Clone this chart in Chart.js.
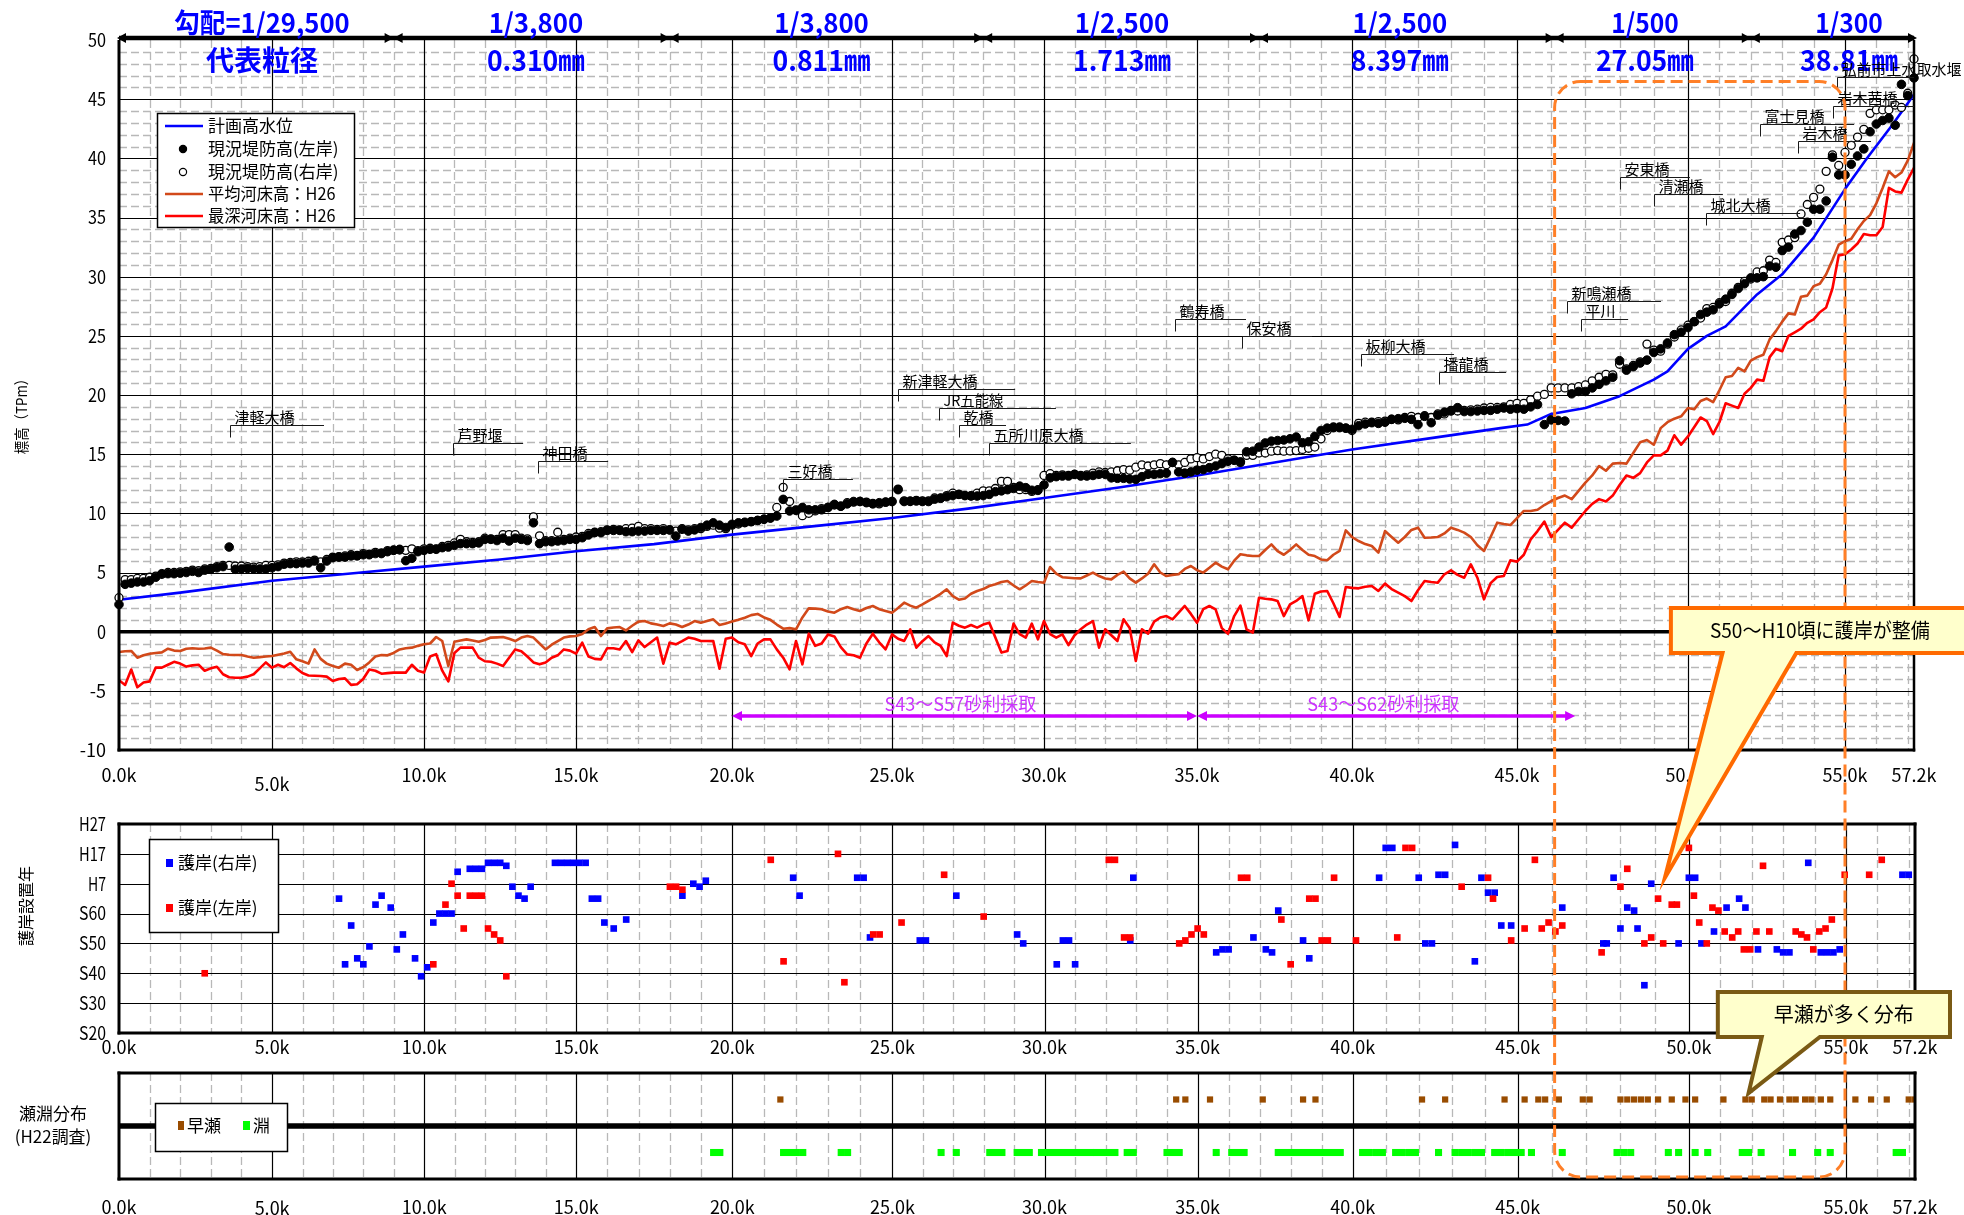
<!DOCTYPE html>
<html lang="ja">
<head>
<meta charset="utf-8">
<title>岩木川 縦断図・護岸設置年・瀬淵分布</title>
<script src="https://cdn.jsdelivr.net/npm/chart.js@4.4.1/dist/chart.umd.min.js"></script>
<style>
html,body{margin:0;padding:0;background:#fff;}
#wrap{position:relative;width:1964px;height:1215px;overflow:hidden;background:#fff;}
#wrap canvas{position:absolute;left:0;}
#cTop{top:0;}
#cMid{top:800px;}
#cBot{top:1060px;}
#cOver{top:0;pointer-events:none;}
</style>
</head>
<body>
<div id="wrap">
<canvas id="cTop" width="1964" height="800"></canvas>
<canvas id="cMid" width="1964" height="260"></canvas>
<canvas id="cBot" width="1964" height="155"></canvas>
<canvas id="cOver" width="1964" height="1215"></canvas>
</div>
<script>
// ===================== DATA =====================
// survey stations (km from river mouth)
const stationsKm = [
0,0.2,0.4,0.6,0.8,1,1.2,1.4,1.6,1.8,
2,2.2,2.4,2.6,2.8,3,3.2,3.4,3.6,3.8,
4,4.2,4.4,4.6,4.8,5,5.2,5.4,5.6,5.8,
6,6.2,6.4,6.6,6.8,7,7.2,7.4,7.6,7.8,
8,8.2,8.4,8.6,8.8,9,9.2,9.4,9.6,9.8,
10,10.2,10.4,10.6,10.8,11,11.2,11.4,11.6,11.8,
12,12.2,12.4,12.6,12.8,13,13.2,13.4,13.6,13.8,
14,14.2,14.4,14.6,14.8,15,15.2,15.4,15.6,15.8,
16,16.2,16.4,16.6,16.8,17,17.2,17.4,17.6,17.8,
18,18.2,18.4,18.6,18.8,19,19.2,19.4,19.6,19.8,
20,20.2,20.4,20.6,20.8,21,21.2,21.4,21.6,21.8,
22,22.2,22.4,22.6,22.8,23,23.2,23.4,23.6,23.8,
24,24.2,24.4,24.6,24.8,25,25.2,25.4,25.6,25.8,
26,26.2,26.4,26.6,26.8,27,27.2,27.4,27.6,27.8,
28,28.2,28.4,28.6,28.8,29,29.2,29.4,29.6,29.8,
30,30.2,30.4,30.6,30.8,31,31.2,31.4,31.6,31.8,
32,32.2,32.4,32.6,32.8,33,33.2,33.4,33.6,33.8,
34,34.2,34.4,34.6,34.8,35,35.2,35.4,35.6,35.8,
36,36.2,36.4,36.6,36.8,37,37.2,37.4,37.6,37.8,
38,38.2,38.4,38.6,38.8,39,39.2,39.4,39.6,39.8,
40,40.2,40.4,40.6,40.8,41,41.2,41.4,41.6,41.8,
42,42.2,42.4,42.6,42.8,43,43.2,43.4,43.6,43.8,
44,44.2,44.4,44.6,44.8,45,45.2,45.4,45.6,45.8,
46,46.2,46.4,46.6,46.8,47,47.2,47.4,47.6,47.8,
48,48.2,48.4,48.6,48.8,49,49.2,49.4,49.6,49.8,
50,50.2,50.4,50.6,50.8,51,51.2,51.4,51.6,51.8,
52,52.2,52.4,52.6,52.8,53,53.2,53.4,53.6,53.8,
54,54.2,54.4,54.6,54.8,55,55.2,55.4,55.6,55.8,
56,56.2,56.4,56.6,56.8,57,57.2];

// 現況堤防高(左岸) TP m
const leveeLeft = [
2.3,4.0,4.1,4.2,4.2,4.3,4.6,4.9,4.9,4.9,
4.95,5.0,5.1,5.0,5.2,5.27,5.4,5.5,7.15,5.27,
5.3,5.35,5.3,5.3,5.3,5.4,5.5,5.7,5.75,5.75,
5.8,5.8,5.97,5.4,5.97,6.25,6.3,6.3,6.4,6.4,
6.5,6.5,6.6,6.6,6.76,6.87,6.96,6.0,6.2,6.76,
6.87,6.96,6.96,7.1,7.15,7.3,7.44,7.44,7.44,7.5,
7.8,7.8,7.7,7.9,7.66,7.9,7.8,7.7,9.2,7.44,
7.6,7.6,7.66,7.7,7.8,7.8,7.94,8.17,8.37,8.37,
8.56,8.56,8.56,8.45,8.45,8.5,8.5,8.56,8.56,8.56,
8.6,8.08,8.65,8.5,8.6,8.8,9.0,9.2,9.0,8.8,
9.07,9.2,9.25,9.3,9.4,9.5,9.6,9.77,11.18,10.2,
10.25,10.5,10.3,10.3,10.3,10.5,10.76,10.6,10.8,11.0,
11.0,10.9,10.8,10.9,10.95,11.0,12.0,11.0,11.04,11.04,
11.0,11.0,11.2,11.27,11.4,11.5,11.6,11.5,11.46,11.46,
11.5,11.6,11.83,11.9,12.0,12.1,12.3,12.17,11.95,11.94,
12.4,13.0,13.1,13.15,13.15,13.3,13.15,13.15,13.2,13.3,
13.3,13.0,12.96,12.96,12.9,12.87,13.1,13.3,13.3,13.35,
13.4,14.3,13.5,13.4,13.5,13.65,13.7,13.86,14.0,14.2,
14.4,14.48,14.35,15.2,15.25,15.6,15.95,16.1,16.15,16.2,
16.3,16.45,15.97,16.05,16.5,17.0,17.2,17.24,17.24,17.2,
17.1,17.4,17.55,17.66,17.6,17.7,17.94,18.0,18.03,17.94,
17.5,18.2,17.66,18.3,18.55,18.65,18.93,18.6,18.6,18.65,
18.7,18.7,18.8,18.9,18.8,18.85,18.8,19.0,19.2,17.5,
17.9,17.85,17.8,20.1,20.3,20.3,20.6,20.9,21.2,21.5,
22.9,22.1,22.4,22.7,22.95,23.6,23.9,24.4,25.1,25.3,
25.7,26.2,26.8,27.0,27.2,27.7,28.1,28.5,29.0,29.4,
29.9,29.9,30.0,30.9,30.8,32.2,32.5,33.6,33.9,34.6,
35.7,35.7,36.4,40.1,38.6,38.6,39.5,40.2,40.8,42.25,
42.9,43.2,43.4,42.8,46.25,45.3,46.8];

// 現況堤防高(右岸) TP m
const leveeRight = [
2.87,4.4,4.4,4.5,4.5,4.6,4.7,4.85,5.0,5.0,
5.05,5.1,5.2,5.15,5.3,5.35,5.5,5.6,5.6,5.55,
5.55,5.5,5.45,5.5,5.6,5.6,5.65,5.8,5.85,5.9,
5.9,5.95,6.05,5.9,6.1,6.3,6.35,6.4,6.5,6.45,
6.6,6.55,6.7,6.65,6.85,6.9,6.9,6.87,7.0,6.85,
7.0,7.05,7.0,7.2,7.3,7.5,7.8,7.6,7.55,7.6,
7.9,7.85,7.8,8.2,8.2,8.2,7.9,7.85,9.7,8.1,
7.7,7.7,8.4,7.8,7.9,8.0,8.05,8.3,8.4,8.45,
8.6,8.65,8.6,8.7,8.75,8.9,8.7,8.7,8.65,8.7,
8.6,8.5,8.7,8.6,8.7,8.7,8.9,9.0,8.75,8.7,
9.0,9.1,9.2,9.3,9.4,9.5,9.6,10.5,12.2,11.0,
10.3,9.8,10.0,10.2,10.4,10.5,10.7,10.6,10.9,10.95,
11.0,10.95,10.85,10.8,10.95,11.0,12.05,11.05,11.0,11.1,
11.05,11.05,11.3,11.3,11.5,11.7,11.6,11.5,11.5,11.7,
11.9,11.9,12.1,12.7,12.7,12.2,12.0,12.0,11.85,12.0,
13.2,13.35,13.2,13.25,13.2,13.3,13.2,13.25,13.4,13.5,
13.45,13.5,13.6,13.7,13.65,13.9,14.1,14.0,14.1,14.2,
14.1,14.3,14.1,14.3,14.6,14.7,14.6,14.8,15.0,14.9,
14.6,14.5,14.3,14.9,14.9,15.1,15.1,15.25,15.3,15.25,
15.27,15.3,15.4,15.5,15.6,16.3,17.0,17.3,17.3,17.2,
17.0,17.6,17.7,17.7,17.75,17.8,17.95,17.9,18.1,18.2,
18.1,18.25,18.1,18.4,18.4,18.7,18.65,18.7,18.75,18.8,
18.9,18.95,18.95,19.0,19.2,19.3,19.3,19.6,19.9,20.05,
20.6,20.6,20.6,20.6,20.7,20.85,21.2,21.5,21.75,21.7,
22.6,22.2,22.5,22.8,24.3,23.8,23.7,24.3,24.9,25.5,
25.9,26.2,26.5,27.3,27.4,27.8,27.9,28.6,29.1,29.6,
29.8,30.4,30.5,31.4,31.2,32.9,33.1,33.3,35.3,36.1,
36.7,37.4,38.9,40.3,39.4,40.5,41.1,41.8,42.45,43.8,
44.1,44.1,44.1,44.5,44.3,45.5,48.4];

// 平均河床高：H26 TP m
const bedAvg = [
-1.72,-1.65,-1.63,-2.2,-2.0,-1.86,-1.8,-1.75,-1.44,-1.6,
-1.63,-1.45,-1.4,-1.44,-1.42,-1.35,-1.6,-1.9,-1.95,-1.97,
-1.97,-2.1,-2.2,-2.15,-2.1,-2.06,-1.95,-1.85,-1.7,-2.34,
-2.5,-2.7,-1.5,-2.3,-2.7,-2.9,-3.04,-2.7,-2.8,-3.24,
-3.0,-2.6,-2.1,-1.97,-2.0,-1.8,-1.5,-1.4,-1.35,-1.2,
-1.07,-1.0,-0.45,-0.79,-2.9,-0.85,-0.75,-0.65,-0.75,-0.85,
-0.7,-0.5,-0.48,-0.45,-0.6,-0.79,-0.5,-0.37,-0.5,-1.0,
-1.5,-1.1,-0.79,-0.5,-0.4,-0.37,-0.2,0.2,0.39,-0.37,
0.28,0.35,0.39,0.1,0.5,0.85,0.9,0.7,0.6,0.48,
0.7,0.6,0.39,0.6,0.9,0.76,0.9,1.04,0.56,0.7,
0.85,1.0,1.18,1.4,1.5,1.2,1.0,0.6,0.25,0.3,
0.2,1.2,1.97,1.95,1.89,1.7,1.6,1.9,2.08,1.9,
1.75,2.0,2.17,1.9,1.75,1.6,2.0,2.45,2.2,2.03,
2.3,2.6,2.87,3.2,3.58,3.0,2.7,2.8,3.2,3.44,
3.6,3.86,4.0,4.2,4.28,3.9,3.58,3.9,4.28,4.2,
4.14,5.46,4.9,4.6,4.56,4.52,4.5,4.75,4.99,4.7,
4.5,4.42,4.8,5.07,4.5,4.14,4.5,4.9,5.69,5.0,
4.7,4.8,4.85,5.3,5.55,5.2,4.99,5.4,5.83,5.5,
5.27,6.0,6.54,6.45,6.4,6.39,6.9,7.38,6.8,6.5,
6.9,7.38,6.9,6.5,6.39,6.1,6.03,6.5,6.82,8.56,
8.0,7.66,7.4,7.24,6.68,8.5,8.0,7.52,8.0,8.6,
8.79,7.94,7.96,8.0,8.3,8.79,8.6,8.37,8.0,7.3,
6.82,8.0,9.21,9.1,9.01,9.6,10.2,10.2,10.3,10.7,
11.04,11.3,11.5,11.2,11.9,12.6,13.2,14.0,13.6,14.2,
14.25,14.2,15.1,16.0,16.2,15.8,17.2,17.7,18.0,18.2,
18.9,18.8,19.5,19.7,19.4,20.4,21.5,21.6,22.3,22.0,
22.9,23.2,23.4,24.7,25.4,26.2,26.9,26.8,28.3,28.4,
29.2,29.4,30.2,31.4,32.7,33.0,33.2,34.0,34.7,35.2,
36.2,37.5,38.9,38.4,38.8,39.8,41.3];

// 最深河床高：H26 TP m
const bedDeep = [
-4.1,-4.5,-3.2,-4.7,-4.3,-4.2,-3.04,-3.04,-2.8,-2.55,
-2.7,-2.95,-2.85,-2.8,-3.3,-3.1,-2.96,-3.6,-3.85,-3.9,
-3.9,-3.8,-3.6,-3.1,-2.6,-3.04,-2.8,-3.0,-2.65,-3.1,
-3.5,-3.7,-3.72,-3.75,-3.8,-4.17,-4.0,-3.95,-4.5,-4.45,
-4.0,-3.2,-3.3,-3.55,-3.5,-3.46,-3.46,-3.46,-2.8,-3.3,
-3.46,-2.1,-1.9,-3.3,-4.2,-1.8,-1.35,-1.35,-1.35,-2.2,
-2.5,-2.54,-2.7,-2.9,-2.2,-1.5,-1.65,-2.1,-2.6,-2.76,
-2.6,-2.2,-2.0,-1.5,-1.6,-1.86,-0.93,-2.1,-2.3,-2.34,
-1.4,-1.4,-1.5,-0.79,-1.72,-0.73,-1.3,-0.9,-0.5,-2.7,
-0.93,-1.07,-0.8,-0.5,-0.6,-0.79,-0.79,-0.8,-3.13,-0.6,
-0.5,-0.9,-1.07,-2.06,-1.0,-0.65,-0.65,-1.5,-2.2,-3.18,
-0.79,-2.76,-0.17,-1.2,-1.0,-0.23,-0.4,-1.3,-1.92,-2.0,
-2.2,-1.0,-0.17,-0.9,-1.49,-0.23,-0.6,-0.79,0.2,-1.35,
-0.8,-0.37,-0.9,-1.21,-2.06,0.76,0.5,0.34,0.56,0.34,
0.6,0.76,-0.5,-1.77,-1.63,0.68,-0.2,-0.5,0.68,-0.65,
0.9,-0.2,-0.5,-0.23,-1.13,-0.3,0.2,0.6,0.9,-1.35,
0.2,-0.3,-0.79,1.04,0.3,-2.48,0.2,-0.17,0.85,1.2,
1.32,1.04,1.6,2.17,1.5,0.76,1.9,2.17,1.89,0.3,
-0.17,1.32,2.2,0.2,-0.08,2.87,2.78,2.73,2.59,1.32,
2.3,2.6,3.01,0.96,3.2,3.4,3.44,2.4,1.24,3.77,
3.7,3.66,3.8,3.86,3.44,4.06,3.6,3.3,3.0,2.59,
3.5,4.28,4.2,4.14,4.85,5.18,4.8,4.56,5.69,4.56,
2.73,4.1,4.62,4.7,6.03,5.92,6.5,7.8,8.5,9.3,
8.0,8.6,9.21,8.79,9.5,10.2,10.8,11.2,11.0,11.5,
12.4,13.2,13.0,13.4,14.3,14.9,14.9,15.3,16.6,15.8,
16.5,17.3,18.1,17.8,16.7,17.7,19.3,19.1,18.9,20.1,
20.6,21.3,21.2,23.2,23.9,23.7,25.0,25.3,25.6,26.1,
26.4,27.0,27.4,29.0,31.8,31.9,32.3,32.8,33.6,33.5,
33.5,34.2,37.5,37.2,37.1,38.2,39.2];

// 計画高水位
const hwlKm   = [0,2,5,7.5,10,12.5,15,17.5,20,22.5,25,27.5,30,32.5,35,37.5,40,42.5,44.5,45.3,46,47,48,49,49.4,50,50.6,51.2,52.2,53,54,55,55.7,56.5,57.2];
const hwlElev = [2.7,3.3,4.3,4.9,5.5,6.1,6.8,7.4,8.2,8.9,9.6,10.4,11.3,12.2,13.2,14.3,15.4,16.4,17.2,17.5,18.4,18.9,19.9,21.3,22.0,23.9,25.0,25.8,28.5,30.2,33.3,37.4,40.0,42.8,45.4];

// 護岸設置年 (西暦で保持, 軸は和暦表示)
const revRightKm = [7.2,7.4,7.6,7.8,8.0,8.2,8.4,8.6,8.9,9.1,9.3,9.7,9.9,10.1,10.3,10.5,10.7,10.9,11.1,11.5,11.7,11.9,12.1,12.3,12.5,12.7,12.9,13.1,13.3,13.5,14.3,14.5,14.7,14.9,15.1,15.3,15.5,15.7,15.9,16.2,16.6,18.4,18.75,18.95,19.15,21.9,22.1,23.9,24.1,24.3,25.9,26.1,27.1,29.1,29.3,30.4,30.6,30.8,31.0,32.8,32.9,35.6,35.8,36.0,36.8,37.2,37.4,37.6,38.4,38.6,40.8,41.0,41.2,42.0,42.2,42.4,42.6,42.8,43.1,43.7,43.9,44.1,44.3,44.5,44.8,46.3,47.5,47.6,47.8,48.0,48.2,48.4,48.5,48.7,48.9,49.7,50.0,50.2,50.4,50.8,51.2,51.6,51.8,52.2,52.8,53.0,53.2,53.8,54.2,54.4,54.6,54.8,56.8,57.0];
const revRightYear = [1990,1968,1981,1970,1968,1974,1988,1991,1987,1973,1978,1970,1964,1967,1982,1985,1985,1985,1999,2000,2000,2000,2002,2002,2002,2001,1994,1991,1990,1994,2002,2002,2002,2002,2002,2002,1990,1990,1982,1980,1983,1991,1995,1994,1996,1997,1991,1997,1997,1977,1976,1976,1991,1978,1975,1968,1976,1976,1968,1976,1997,1972,1973,1973,1977,1973,1972,1986,1976,1970,1997,2007,2007,1997,1975,1975,1998,1998,2008,1969,1997,1992,1992,1981,1981,1987,1975,1975,1997,1980,1987,1986,1980,1961,1995,1975,1997,1997,1975,1979,1987,1990,1987,1973,1973,1972,1972,2002,1972,1972,1972,1973,1998,1998];
const revLeftKm = [2.8,10.3,10.7,10.9,11.1,11.3,11.5,11.7,11.9,12.1,12.3,12.5,12.7,18.0,18.2,18.4,21.2,21.6,23.3,23.5,24.4,24.6,25.3,26.7,28.0,32.1,32.3,32.6,32.8,34.4,34.6,34.8,35.0,35.2,36.4,36.6,37.7,38.0,38.6,38.8,39.0,39.2,39.4,40.1,41.35,41.6,41.8,43.3,44.1,44.25,44.8,45.2,45.5,45.7,45.9,46.1,46.3,47.45,48.0,48.2,48.7,48.9,49.1,49.25,49.5,49.65,50.0,50.16,50.33,50.57,50.75,50.94,51.14,51.38,51.57,51.75,51.95,52.15,52.36,52.56,53.4,53.58,53.76,53.96,54.15,54.35,54.55,54.96,55.74,56.14];
const revLeftYear = [1965,1968,1988,1995,1991,1980,1991,1991,1991,1980,1978,1976,1964,1994,1994,1993,2003,1969,2005,1962,1978,1978,1982,1998,1984,2003,2003,1977,1977,1975,1976,1978,1980,1978,1997,1997,1983,1968,1990,1990,1976,1976,1997,1976,1977,2007,2007,1994,1997,1990,1976,1980,2003,1980,1982,1979,1981,1972,1994,2000,1975,1977,1990,1975,1988,1988,2007,1991,1982,1975,1987,1986,1979,1977,1979,1973,1973,1979,2001,1979,1979,1978,1977,1973,1979,1980,1983,1998,1998,2003];

// 瀬淵分布 (H22調査)
const rapidKm = [21.5,34.3,34.6,35.4,37.1,38.4,38.8,42.1,42.8,44.6,45.2,45.6,45.8,46.2,46.9,47.1,48.0,48.2,48.4,48.6,48.8,49.1,49.5,49.9,50.2,51.1,51.8,52.0,52.4,52.6,52.9,53.2,53.4,53.7,53.9,54.2,54.5,55.3,55.8,56.3,57.0,57.2];
const poolKm = [19.4,19.6,21.6,21.8,22.0,22.2,23.4,23.6,26.6,27.1,28.2,28.4,28.6,29.1,29.3,29.5,29.9,30.1,30.3,30.5,30.7,30.9,31.1,31.3,31.5,31.7,31.9,32.1,32.3,32.7,32.9,34.0,34.2,34.4,35.6,36.1,36.3,36.5,37.6,37.8,38.0,38.2,38.4,38.6,38.8,39.0,39.2,39.4,39.6,40.3,40.5,40.7,40.9,41.3,41.5,41.7,41.9,42.6,43.1,43.3,43.5,43.7,43.9,44.3,44.5,44.7,44.9,45.1,45.4,46.3,47.9,48.1,48.3,49.4,49.7,50.2,50.6,51.7,51.9,52.3,53.3,54.1,54.5,56.6,56.8];
const rapidRow = 0.5, poolRow = -0.5;

// ticks / labels
const distTickKm = [0,5,10,15,20,25,30,35,40,45,50,55,57.2];
const distTickLabels = ['0.0k','5.0k','10.0k','15.0k','20.0k','25.0k','30.0k','35.0k','40.0k','45.0k','50.0k','55.0k','57.2k'];
const elevTicks = [-10,-5,0,5,10,15,20,25,30,35,40,45,50];
const eraTickYears = [1945,1955,1965,1975,1985,1995,2005,2015];
const eraTickLabels = ['S20','S30','S40','S50','S60','H7','H17','H27'];

// header: 河床勾配区間と代表粒径
const gradBoundsKm = [0,9.0,18.0,28.0,37.0,46.1,52.0,57.2];
const gradLabels = ['勾配=1/29,500','1/3,800','1/3,800','1/2,500','1/2,500','1/500','1/300'];
const grainLabels = ['代表粒径','0.310㎜','0.811㎜','1.713㎜','8.397㎜','27.05㎜','38.81㎜'];
const gradLabelKm = [4.67,13.68,22.8,32.55,41.45,48.74,55.13];

// 横断構造物
const bridgeNames = ['津軽大橋','芦野堰','神田橋','三好橋','新津軽大橋','JR五能線','乾橋','五所川原大橋','鶴寿橋','保安橋','板柳大橋','播龍橋','新鳴瀬橋','平川','安東橋','清瀬橋','城北大橋','富士見橋','岩木橋','岩木茜橋','弘前市上水取水堰'];
const bridgeKm    = [3.63,10.95,13.75,21.59,25.2,26.55,27.2,28.19,34.28,36.45,40.27,42.64,46.46,46.87,48.01,49.0,50.57,52.29,53.5,54.62,54.75];
const bridgeEndKm = [6.71,13.26,16.03,23.78,29.05,30.39,28.75,32.84,36.58,38.71,43.09,44.67,49.21,48.25,50.06,51.11,53.57,55.29,55.83,57.2,57.2];
const bridgeElev  = [17.47,15.95,14.43,12.91,20.52,18.91,17.47,15.95,26.43,24.99,23.47,21.95,27.94,26.43,38.43,36.99,35.39,42.91,41.47,44.43,46.89];

// 砂利採取区間
const gravelStartKm = [20.0,35.0];
const gravelEndKm = [35.0,46.7];
const gravelLabels = ['S43〜S57砂利採取','S43〜S62砂利採取'];
const gravelLabelKm = [27.25,40.95];
const gravelArrowElev = -7.13, gravelLabelElev = -6.1;

// 注記
const focusKm = [46.1,55.0];
const note1 = 'S50〜H10頃に護岸が整備';
const note2 = '早瀬が多く分布';

// ===================== AXIS (distance axis of original drawing is not strictly uniform) =====================
const distAxisWarp = {
  km:   [0,5,10,15,20,25,30,35,40,45,50,55,57.2],
  frac: [0,0.08524,0.16992,0.25460,0.34150,0.43064,0.51532,0.60056,0.68691,0.77883,0.87409,0.96156,1]
};
function warpKm(v){
  const K=distAxisWarp.km, F=distAxisWarp.frac; let i=0;
  if (v>=K[K.length-1]) i=K.length-2; else if (v>K[0]) { while (v>K[i+1]) i++; }
  return F[i] + (v-K[i])*(F[i+1]-F[i])/(K[i+1]-K[i]);
}
function unwarpKm(f){
  const K=distAxisWarp.km, F=distAxisWarp.frac; let i=0;
  if (f>=F[F.length-1]) i=F.length-2; else if (f>F[0]) { while (f>F[i+1]) i++; }
  return K[i] + (f-F[i])*(K[i+1]-K[i])/(F[i+1]-F[i]);
}
class KmWarpScale extends Chart.LinearScale {
  getPixelForValue(value){ return (value === null || value === undefined) ? NaN : this.getPixelForDecimal(warpKm(value)); }
  getValueForPixel(pixel){ return unwarpKm(this.getDecimalForPixel(pixel)); }
}
KmWarpScale.id = 'kmWarp';
KmWarpScale.defaults = Chart.LinearScale.defaults;
Chart.register(KmWarpScale);

// ===================== HELPERS =====================
const JP = '"Noto Sans CJK JP","Noto Sans JP","Noto Sans",sans-serif';
const MINOR = '#B8B8B8';
function units(s){ let u=0; for (const ch of s){ const c=ch.codePointAt(0); u += (c<0x2000 || (c>=0xFF61 && c<=0xFF9F)) ? 0.5 : 1; } return u; }
function txt(ctx, s, x, y, size, o={}){
  const align=o.align||'left', base=o.base||'middle', color=o.color||'#000', weight=o.weight||'normal', squeeze=o.squeeze||1;
  ctx.save();
  ctx.font = weight+' '+size+'px '+JP;
  ctx.fillStyle = color; ctx.textBaseline = base; ctx.textAlign = 'left';
  const w = ctx.measureText(s).width;
  const sx = Math.min(1, units(s)*size*squeeze / w);
  const dw = w*sx;
  ctx.translate(x, y);
  if (o.rotate) ctx.rotate(o.rotate);
  ctx.translate(align==='center' ? -dw/2 : align==='right' ? -dw : 0, 0);
  ctx.scale(sx, 1);
  ctx.fillText(s, 0, 0);
  ctx.restore();
}
function vl(ctx, x, y1, y2){ ctx.beginPath(); ctx.moveTo(x, y1); ctx.lineTo(x, y2); ctx.stroke(); }
function hl(ctx, y, x1, x2){ ctx.beginPath(); ctx.moveTo(x1, y); ctx.lineTo(x2, y); ctx.stroke(); }
const px = v => Math.round(v) + 0.5;
const pts = (xs, ys) => xs.map((x, i) => ({x: x, y: ys[i]}));

function drawGrid(chart, spec){
  const {ctx, chartArea:a, scales:{x, y}} = chart;
  ctx.save();
  ctx.beginPath(); ctx.rect(a.left, a.top, a.right-a.left, a.bottom-a.top); ctx.clip();
  ctx.strokeStyle = MINOR; ctx.lineWidth = 1.3; ctx.setLineDash([8,4]);
  for (let k = 1; k < 57.2; k++) if (k % 5 !== 0) vl(ctx, px(x.getPixelForValue(k)), a.top, a.bottom);
  (spec.yMinor || []).forEach(v => hl(ctx, px(y.getPixelForValue(v)), a.left, a.right));
  ctx.setLineDash([]);
  ctx.strokeStyle = '#000'; ctx.lineWidth = 1.2;
  for (let k = 5; k < 57.2; k += 5) vl(ctx, px(x.getPixelForValue(k)), a.top, a.bottom);
  (spec.yMajor || []).forEach(v => hl(ctx, px(y.getPixelForValue(v)), a.left, a.right));
  if (spec.zero) { ctx.lineWidth = spec.zero; hl(ctx, y.getPixelForValue(0), a.left, a.right); }
  ctx.restore();
}
function drawFrame(chart, w){
  const {ctx, chartArea:a} = chart;
  ctx.save(); ctx.strokeStyle = '#000';
  if (w.top){ ctx.lineWidth = w.top; hl(ctx, a.top, a.left - w.left/2, a.right + w.right/2); }
  ctx.lineWidth = w.bottom; hl(ctx, a.bottom, a.left - w.left/2, a.right + w.right/2);
  ctx.lineWidth = w.left; vl(ctx, a.left, a.top - (w.top||0)/2, a.bottom + w.bottom/2);
  ctx.lineWidth = w.right; vl(ctx, a.right, a.top - (w.top||0)/2, a.bottom + w.bottom/2);
  ctx.restore();
}
function drawDistLabels(chart, yPix, stagger){
  const {ctx, scales:{x}} = chart;
  distTickKm.forEach((km, i) => {
    txt(ctx, distTickLabels[i], x.getPixelForValue(km), yPix + (i === 1 ? stagger : 0), 18, {align:'center'});
  });
}
function arrowHead(ctx, xt, y, dir, len, hw){
  ctx.beginPath(); ctx.moveTo(xt, y); ctx.lineTo(xt - dir*len, y - hw); ctx.lineTo(xt - dir*len, y + hw); ctx.closePath(); ctx.fill();
}

// ===================== TOP CHART =====================
const topPlugin = {
  id: 'topDecor',
  beforeDatasetsDraw(chart){
    const yMinor = [], yMajor = [];
    for (let v = -9; v < 50; v++) (v % 5 === 0 ? (v !== 0 && yMajor.push(v)) : yMinor.push(v));
    drawGrid(chart, {yMinor: yMinor, yMajor: yMajor, zero: 3.5});
  },
  afterDatasetsDraw(chart){
    drawFrame(chart, {left:3, bottom:3, right:2.5, top:0});
  },
  afterDraw(chart){
    const {ctx, chartArea:a, scales:{x, y}} = chart;
    // header arrows
    ctx.save();
    const yL = a.top - 2;
    ctx.strokeStyle = '#000'; ctx.fillStyle = '#000'; ctx.lineWidth = 4.5;
    hl(ctx, yL, x.getPixelForValue(0), x.getPixelForValue(57.2));
    for (let i = 0; i < gradBoundsKm.length - 1; i++){
      arrowHead(ctx, x.getPixelForValue(gradBoundsKm[i]) + (i === 0 ? -2 : 0), yL, -1, 9, 5);
      arrowHead(ctx, x.getPixelForValue(gradBoundsKm[i+1]) + (i === gradBoundsKm.length - 2 ? 3 : 0), yL, 1, 9, 5);
    }
    ctx.restore();
    gradLabels.forEach((s, i) => txt(ctx, s, x.getPixelForValue(gradLabelKm[i]), 23, 27, {align:'center', color:'#0000FF', weight:'bold'}));
    grainLabels.forEach((s, i) => txt(ctx, s, x.getPixelForValue(gradLabelKm[i]), 60, 28, {align:'center', color:'#0000FF', weight:'bold'}));

    // bridges / weirs
    ctx.save(); ctx.strokeStyle = '#1a1a1a'; ctx.lineWidth = 1;
    bridgeNames.forEach((nm, i) => {
      const x0 = px(x.getPixelForValue(bridgeKm[i])), x1 = x.getPixelForValue(bridgeEndKm[i]), yy = px(y.getPixelForValue(bridgeElev[i]));
      ctx.beginPath(); ctx.moveTo(x0, yy + 12); ctx.lineTo(x0, yy); ctx.lineTo(x1, yy); ctx.stroke();
      txt(ctx, nm, x0 + 4, yy - 8, 15);
    });
    ctx.restore();

    // gravel mining arrows
    ctx.save(); ctx.strokeStyle = '#CC00FF'; ctx.fillStyle = '#CC00FF'; ctx.lineWidth = 3.5;
    gravelStartKm.forEach((k, i) => {
      const xa = x.getPixelForValue(k), xb = x.getPixelForValue(gravelEndKm[i]), yy = y.getPixelForValue(gravelArrowElev);
      hl(ctx, yy, xa + 4, xb - 4);
      arrowHead(ctx, xa, yy, -1, 10, 5); arrowHead(ctx, xb, yy, 1, 10, 5);
      txt(ctx, gravelLabels[i], x.getPixelForValue(gravelLabelKm[i]), y.getPixelForValue(gravelLabelElev), 19, {align:'center', color:'#CC33FF'});
    });
    ctx.restore();

    // legend
    ctx.save();
    const bx = 157, by = 113, bw = 197, bh = 114;
    ctx.fillStyle = '#fff'; ctx.fillRect(bx, by, bw, bh);
    ctx.strokeStyle = '#000'; ctx.lineWidth = 1.5; ctx.strokeRect(bx + 0.5, by + 0.5, bw, bh);
    const rows = [126, 149, 172, 194, 216];
    chart.data.datasets.forEach((ds, i) => {
      const yy = rows[i];
      if (ds.showLine === false){
        ctx.beginPath(); ctx.arc(183, yy, 3.6, 0, Math.PI*2);
        ctx.fillStyle = ds.pointBackgroundColor; ctx.fill();
        ctx.lineWidth = 1.2; ctx.strokeStyle = ds.pointBorderColor; ctx.stroke();
      } else {
        ctx.strokeStyle = ds.borderColor; ctx.lineWidth = 2.5; hl(ctx, yy, 165, 203);
      }
      txt(ctx, ds.label, 208, yy, 17);
    });
    ctx.restore();

    // axis labels
    elevTicks.forEach(v => txt(ctx, String(v), 106, y.getPixelForValue(v), 18, {align:'right'}));
    drawDistLabels(chart, 775, 9);
    txt(ctx, '標高（TPm）', 21, 413, 15, {align:'center', rotate:-Math.PI/2});
  }
};

const topChart = new Chart(document.getElementById('cTop'), {
  type: 'line',
  data: {
    datasets: [
      {label:'計画高水位', data: pts(hwlKm, hwlElev), borderColor:'#0000FF', backgroundColor:'#0000FF', borderWidth:2.6, pointRadius:0, order:3},
      {label:'現況堤防高(左岸)', data: pts(stationsKm, leveeLeft), showLine:false, pointRadius:4.3, pointBackgroundColor:'#000000', pointBorderColor:'#000000', pointBorderWidth:1, borderColor:'#000', backgroundColor:'#000', order:1, clip:false},
      {label:'現況堤防高(右岸)', data: pts(stationsKm, leveeRight), showLine:false, pointRadius:4, pointBackgroundColor:'#ffffff', pointBorderColor:'#000000', pointBorderWidth:1.3, borderColor:'#000', backgroundColor:'#fff', order:2, clip:false},
      {label:'平均河床高：H26', data: pts(stationsKm, bedAvg), borderColor:'#D2491A', backgroundColor:'#D2491A', borderWidth:2.6, pointRadius:0, order:4},
      {label:'最深河床高：H26', data: pts(stationsKm, bedDeep), borderColor:'#FF0000', backgroundColor:'#FF0000', borderWidth:2.6, pointRadius:0, order:5}
    ]
  },
  options: {
    responsive:false, animation:false, devicePixelRatio:1, events:[],
    layout:{padding:{left:0, right:50, top:40, bottom:0}},
    elements:{line:{tension:0, borderJoinStyle:'round', borderCapStyle:'round'}},
    plugins:{legend:{display:false}, tooltip:{enabled:false}},
    scales:{
      x:{type:'kmWarp', min:0, max:57.2, ticks:{display:false}, grid:{display:false}, border:{display:false}, afterFit(s){ s.height = 50; }},
      y:{type:'linear', min:-10, max:50, ticks:{display:false}, grid:{display:false}, border:{display:false}, afterFit(s){ s.width = 119; }}
    }
  },
  plugins:[topPlugin]
});

// ===================== MIDDLE CHART =====================
const midPlugin = {
  id: 'midDecor',
  beforeDatasetsDraw(chart){ drawGrid(chart, {yMajor: eraTickYears.slice(1, -1)}); },
  afterDatasetsDraw(chart){ drawFrame(chart, {left:3, bottom:3, right:3, top:3}); },
  afterDraw(chart){
    const {ctx, scales:{y}} = chart;
    ctx.save();
    const bx = 149, by = 39, bw = 129, bh = 93;
    ctx.fillStyle = '#fff'; ctx.fillRect(bx, by, bw, bh);
    ctx.strokeStyle = '#000'; ctx.lineWidth = 1.5; ctx.strokeRect(bx + 0.5, by + 0.5, bw, bh);
    const rows = [63, 108];
    chart.data.datasets.forEach((ds, i) => {
      ctx.fillStyle = ds.backgroundColor; ctx.fillRect(166, rows[i] - 4, 7, 8);
      txt(ctx, ds.label, 178, rows[i], 17);
    });
    ctx.restore();
    eraTickYears.forEach((yr, i) => txt(ctx, eraTickLabels[i], 106, y.getPixelForValue(yr), 18, {align:'right'}));
    drawDistLabels(chart, 247, 0);
    txt(ctx, '護岸設置年', 26, 106, 16, {align:'center', rotate:-Math.PI/2});
  }
};
const midChart = new Chart(document.getElementById('cMid'), {
  type: 'scatter',
  data: {
    datasets: [
      {label:'護岸(右岸)', data: pts(revRightKm, revRightYear), pointStyle:'rect', pointRadius:4.7, pointBorderWidth:0, backgroundColor:'#0000FF', borderColor:'#0000FF', order:2},
      {label:'護岸(左岸)', data: pts(revLeftKm, revLeftYear), pointStyle:'rect', pointRadius:4.7, pointBorderWidth:0, backgroundColor:'#FF0000', borderColor:'#FF0000', order:1}
    ]
  },
  options: {
    responsive:false, animation:false, devicePixelRatio:1, events:[],
    layout:{padding:{left:0, right:49, top:24, bottom:0}},
    plugins:{legend:{display:false}, tooltip:{enabled:false}},
    scales:{
      x:{type:'kmWarp', min:0, max:57.2, ticks:{display:false}, grid:{display:false}, border:{display:false}, afterFit(s){ s.height = 27; }},
      y:{type:'linear', min:1945, max:2015, ticks:{display:false}, grid:{display:false}, border:{display:false}, afterFit(s){ s.width = 119; }}
    }
  },
  plugins:[midPlugin]
});

// ===================== BOTTOM CHART =====================
const botPlugin = {
  id: 'botDecor',
  beforeDatasetsDraw(chart){ drawGrid(chart, {}); },
  afterDatasetsDraw(chart){
    const {ctx, chartArea:a, scales:{y}} = chart;
    ctx.save(); ctx.strokeStyle = '#000'; ctx.lineWidth = 5.5; hl(ctx, y.getPixelForValue(0), a.left, a.right); ctx.restore();
    drawFrame(chart, {left:3, bottom:3, right:3, top:3});
  },
  afterDraw(chart){
    const {ctx} = chart;
    ctx.save();
    const bx = 155, by = 43, bw = 132, bh = 48;
    ctx.fillStyle = '#fff'; ctx.fillRect(bx, by, bw, bh);
    ctx.strokeStyle = '#000'; ctx.lineWidth = 1.5; ctx.strokeRect(bx + 0.5, by + 0.5, bw, bh);
    const ds = chart.data.datasets;
    ctx.fillStyle = ds[0].backgroundColor; ctx.fillRect(178, 61, 6, 9);
    txt(ctx, ds[0].label, 187, 66, 17);
    ctx.fillStyle = ds[1].backgroundColor; ctx.fillRect(243, 61, 7, 9);
    txt(ctx, ds[1].label, 253, 66, 17);
    ctx.restore();
    drawDistLabels(chart, 147, 1);
    txt(ctx, '瀬淵分布', 53, 54, 17, {align:'center'});
    txt(ctx, '(H22調査)', 53, 77, 17, {align:'center'});
  }
};
const botChart = new Chart(document.getElementById('cBot'), {
  type: 'scatter',
  data: {
    datasets: [
      {label:'早瀬', data: rapidKm.map(k => ({x:k, y:rapidRow})), pointStyle:'rect', pointRadius:4.4, pointBorderWidth:0, backgroundColor:'#994C00', borderColor:'#994C00'},
      {label:'淵', data: poolKm.map(k => ({x:k, y:poolRow})), pointStyle:'rect', pointRadius:5, pointBorderWidth:0, backgroundColor:'#00FF00', borderColor:'#00FF00'}
    ]
  },
  options: {
    responsive:false, animation:false, devicePixelRatio:1, events:[],
    layout:{padding:{left:0, right:49, top:13, bottom:0}},
    plugins:{legend:{display:false}, tooltip:{enabled:false}},
    scales:{
      x:{type:'kmWarp', min:0, max:57.2, ticks:{display:false}, grid:{display:false}, border:{display:false}, afterFit(s){ s.height = 36; }},
      y:{type:'linear', min:-1, max:1, ticks:{display:false}, grid:{display:false}, border:{display:false}, afterFit(s){ s.width = 119; }}
    }
  },
  plugins:[botPlugin]
});

// ===================== OVERLAY (cross-panel annotations) =====================
(function drawOverlay(){
  const ctx = document.getElementById('cOver').getContext('2d');
  const offMid = 800, offBot = 1060;
  const xs = topChart.scales.x, ys = topChart.scales.y;
  // orange dashed rounded frame
  const x1 = xs.getPixelForValue(focusKm[0]), x2 = xs.getPixelForValue(focusKm[1]);
  const y1 = ys.getPixelForValue(46.5), y2 = offBot + botChart.chartArea.bottom - 2;
  const r = 26;
  ctx.save();
  ctx.strokeStyle = '#FF7F27'; ctx.lineWidth = 3; ctx.setLineDash([12,6]);
  ctx.beginPath();
  ctx.moveTo(x1 + r, y1); ctx.lineTo(x2 - r, y1); ctx.arcTo(x2, y1, x2, y1 + r, r);
  ctx.lineTo(x2, y2 - r); ctx.arcTo(x2, y2, x2 - r, y2, r);
  ctx.lineTo(x1 + r, y2); ctx.arcTo(x1, y2, x1, y2 - r, r);
  ctx.lineTo(x1, y1 + r); ctx.arcTo(x1, y1, x1 + r, y1, r);
  ctx.closePath(); ctx.stroke();
  ctx.restore();

  function callout(box, baseL, baseR, tip, stroke){
    ctx.save();
    ctx.beginPath();
    ctx.moveTo(box.l, box.t); ctx.lineTo(box.r, box.t); ctx.lineTo(box.r, box.b);
    ctx.lineTo(baseR, box.b); ctx.lineTo(tip.x, tip.y); ctx.lineTo(baseL, box.b);
    ctx.lineTo(box.l, box.b); ctx.closePath();
    ctx.fillStyle = '#FFFFCC'; ctx.fill();
    ctx.strokeStyle = stroke; ctx.lineWidth = 4; ctx.lineJoin = 'miter'; ctx.stroke();
    ctx.restore();
  }
  // note 1 : 護岸整備
  const b1 = {l: xs.getPixelForValue(49.5), r: 1990, t: ys.getPixelForValue(2.0), b: ys.getPixelForValue(-1.8)};
  callout(b1, xs.getPixelForValue(51.1), xs.getPixelForValue(53.45),
    {x: midChart.scales.x.getPixelForValue(49.3), y: offMid + midChart.scales.y.getPixelForValue(1997)}, '#FF6A00');
  txt(ctx, note1, b1.l + 149, (b1.t + b1.b)/2, 20, {align:'center'});
  // note 2 : 早瀬
  const mb = offMid + midChart.chartArea.bottom;
  const b2 = {l: xs.getPixelForValue(50.95), r: 1950, t: mb - 41, b: mb + 4};
  callout(b2, xs.getPixelForValue(52.35), xs.getPixelForValue(54.2),
    {x: botChart.scales.x.getPixelForValue(51.9), y: offBot + botChart.scales.y.getPixelForValue(0.62)}, '#7A5A14');
  txt(ctx, note2, b2.l + 126, (b2.t + b2.b)/2, 20, {align:'center'});
})();
</script>
</body>
</html>
